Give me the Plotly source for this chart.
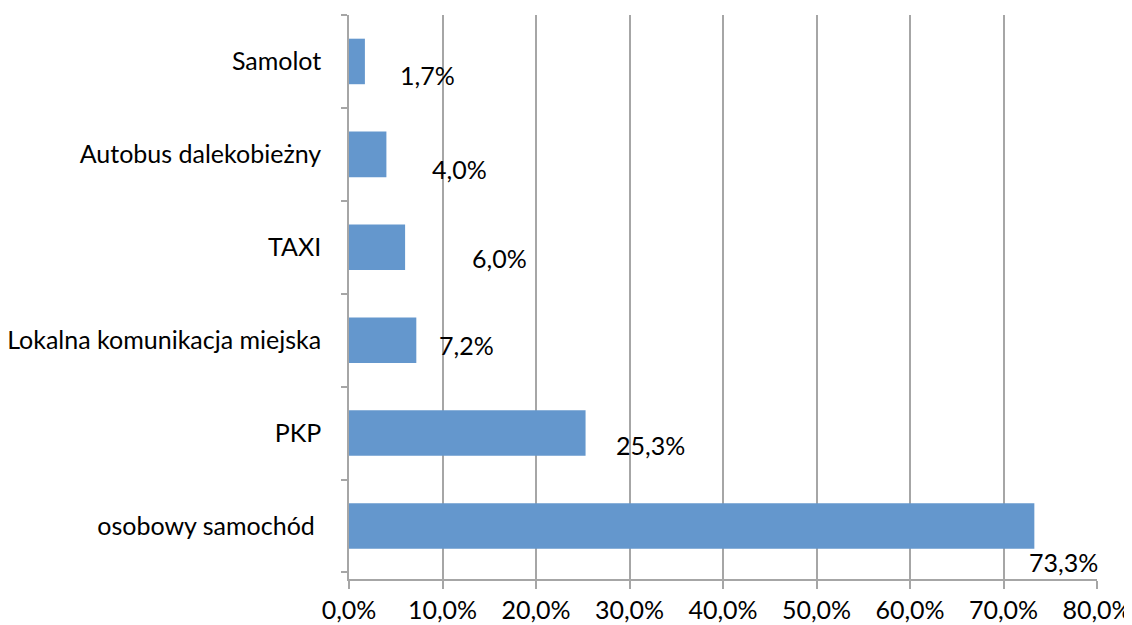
import plotly.graph_objects as go

categories = ["osobowy samochód ", "PKP", "Lokalna komunikacja miejska", "TAXI", "Autobus dalekobieżny", "Samolot"]
values = [73.3, 25.3, 7.2, 6.0, 4.0, 1.7]
value_labels = ["73,3%", "25,3%", "7,2%", "6,0%", "4,0%", "1,7%"]
# label offsets in pixels (manual placement in the original)
label_dx = [-7, 28, 21, 65, 44, 33]
label_dy = [-36, -12, -5, -11, -15, -14]

tick_vals = [0, 10, 20, 30, 40, 50, 60, 70, 80]
tick_text = ["0,0%", "10,0%", "20,0%", "30,0%", "40,0%", "50,0%", "60,0%", "70,0%", "80,0%"]

FONT = "Lato"
FS = 25

fig = go.Figure()
fig.add_trace(go.Bar(
    y=categories, x=values, orientation="h",
    marker=dict(color="#6497CD", line=dict(width=0)),
    width=0.49, hoverinfo="x+y",
))

for c, v, t, dx, dy in zip(categories, values, value_labels, label_dx, label_dy):
    fig.add_annotation(x=v, y=c, text=t, showarrow=False, xanchor="left", yanchor="middle",
                       xshift=dx, yshift=dy, font=dict(family=FONT, size=FS, color="#000000"))

fig.update_layout(
    width=1124, height=617,
    margin=dict(l=341, r=35, t=7, b=46),
    paper_bgcolor="white", plot_bgcolor="white",
    showlegend=False,
    font=dict(family=FONT, size=FS, color="#000000"),
    xaxis=dict(range=[0, 80], tickvals=tick_vals, ticktext=tick_text,
               showgrid=True, gridcolor="#A6A6A6", gridwidth=1.5,
               showline=True, linecolor="#A6A6A6", linewidth=1.5,
               ticks="outside", ticklen=8, tickcolor="#A6A6A6", tickwidth=1.5,
               zeroline=False, tickfont=dict(size=FS), automargin=False,
               fixedrange=True),
    yaxis=dict(type="category", categoryorder="array", categoryarray=categories,
               showgrid=False, zeroline=False,
               showline=True, linecolor="#A6A6A6", linewidth=1.5,
               ticks="outside", ticklen=6, tickcolor="#A6A6A6", tickwidth=1.5,
               tickson="boundaries", ticklabelstandoff=21,
               tickfont=dict(size=FS), automargin=False, fixedrange=True),
)

fig.write_html("out.html", config={"displayModeBar": False})
